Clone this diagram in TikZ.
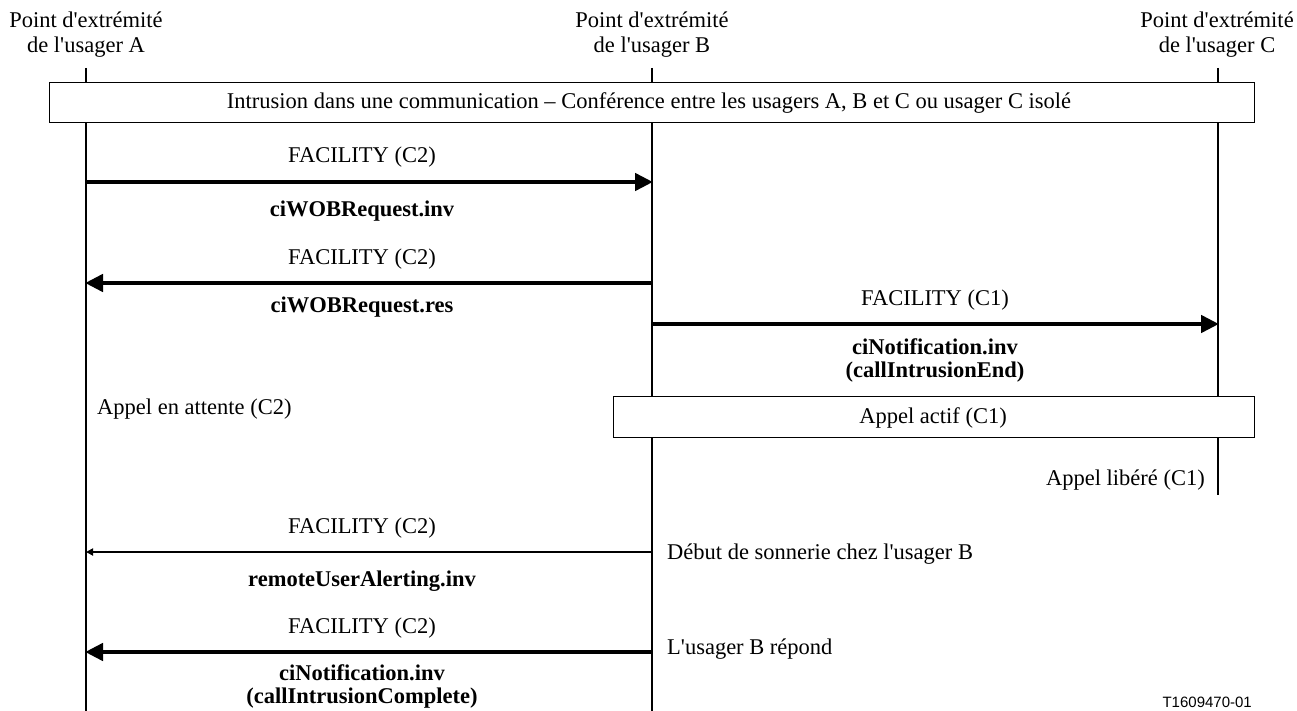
\documentclass[tikz,border=0pt]{standalone}
\usepackage{fontspec}
\setmainfont{Liberation Serif}
\newfontfamily\refsans{Liberation Sans}
\usetikzlibrary{arrows.meta}
% straight apostrophe
\newcommand{\ap}{\textquotesingle}
\begin{document}
\begin{tikzpicture}[x=1pt,y=-1pt,
  every node/.style={font=\fontsize{22.5}{24}\selectfont, inner sep=0pt},
  lifeline/.style={line width=1.6pt},
  framebox/.style={draw, line width=0.8pt, fill=white},
  heavymsg/.style={line width=4.5pt, -{Triangle[length=18pt,width=17pt]}, shorten >=-1pt},
  lightmsg/.style={line width=2pt, -{Triangle[length=7pt,width=7pt]}},
  msglabel/.style={anchor=base},
  oplabel/.style={anchor=base, font=\fontsize{22.5}{22.5}\selectfont\bfseries, align=center},
  heading/.style={align=center, anchor=base, font=\fontsize{22.5}{25}\selectfont}
]
\useasboundingbox (0,0) rectangle (1297,711);

% endpoint headings (base = baseline of the last line)
\node[heading] (hA) at (86,53) {Point d\ap extrémité\\de l\ap usager A};
\node[heading] (hB) at (652,53) {Point d\ap extrémité\\de l\ap usager B};
\node[heading] (hC) at (1217,53) {Point d\ap extrémité\\de l\ap usager C};

% lifeline end points
\coordinate (A0) at (86,68);   \coordinate (A1) at (86,711);
\coordinate (B0) at (652,68);  \coordinate (B1) at (652,711);
\coordinate (C0) at (1218,68); \coordinate (C1) at (1218,495);
\draw[lifeline] (A0) -- (A1);
\draw[lifeline] (B0) -- (B1);
\draw[lifeline] (C0) -- (C1);

% state boxes
\node[framebox, minimum width=1205pt, minimum height=40pt, anchor=north west] (conf) at (49,82) {};
\node[anchor=base] (conftext) at (649,109)
  {Intrusion dans une communication -- Conférence entre les usagers A, B et C ou usager C isolé};
\node[framebox, minimum width=641pt, minimum height=41pt, anchor=north west] (actif) at (613,396) {};
\node[anchor=base] (actiftext) at (933,423) {Appel actif (C1)};

% message 1: A -> B
\coordinate (m1a) at (86,182); \coordinate (m1b) at (652,182);
\draw[heavymsg] (m1a) -- (m1b);
\node[msglabel] (l1) at (362,163) {FACILITY (C2)};
\node[oplabel] (o1) at (362,217) {ciWOBRequest.inv};

% message 2: B -> A
\coordinate (m2b) at (652,283); \coordinate (m2a) at (86,283);
\draw[heavymsg] (m2b) -- (m2a);
\node[msglabel] (l2) at (362,265) {FACILITY (C2)};
\node[oplabel] (o2) at (362,312) {ciWOBRequest.res};

% message 3: B -> C
\coordinate (m3b) at (652,324); \coordinate (m3c) at (1218,324);
\draw[heavymsg] (m3b) -- (m3c);
\node[msglabel] (l3) at (935,305) {FACILITY (C1)};
\node[oplabel] (o3) at (935,377) {ciNotification.inv\\(callIntrusionEnd)};

% state notes
\node[anchor=base west] (attente) at (97,414) {Appel en attente (C2)};
\node[anchor=base east] (libere) at (1205,485) {Appel libéré (C1)};

% message 4: B -> A (thin)
\coordinate (m4b) at (652,552); \coordinate (m4a) at (86,552);
\draw[lightmsg] (m4b) -- (m4a);
\node[msglabel] (l4) at (362,533) {FACILITY (C2)};
\node[oplabel] (o4) at (362,586) {remoteUserAlerting.inv};
\node[anchor=base west] (sonnerie) at (667,559) {Début de sonnerie chez l\ap usager B};

% message 5: B -> A
\coordinate (m5b) at (652,652); \coordinate (m5a) at (86,652);
\draw[heavymsg] (m5b) -- (m5a);
\node[msglabel] (l5) at (362,633) {FACILITY (C2)};
\node[oplabel] (o5) at (362,703) {ciNotification.inv\\(callIntrusionComplete)};
\node[anchor=base west] (repond) at (667,654) {L\ap usager B répond};

% figure reference
\node[anchor=base east, font=\fontsize{15}{17}\refsans] (ref) at (1252,707) {T1609470-01};
\end{tikzpicture}
\end{document}
